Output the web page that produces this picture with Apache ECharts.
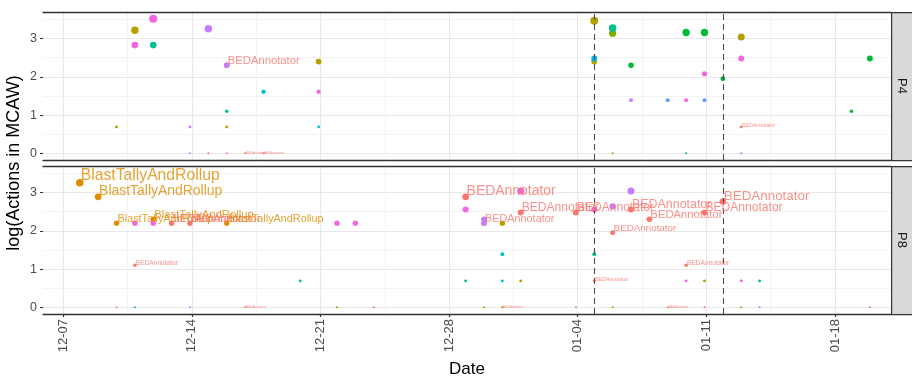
<!DOCTYPE html>
<html>
<head>
<meta charset="utf-8">
<script src="https://cdn.jsdelivr.net/npm/echarts@6/dist/echarts.min.js"></script>
<style>
  html, body { margin: 0; padding: 0; background: #fff; }
  #chart { width: 912px; height: 380px; }
</style>
</head>
<body>
<div id="chart"></div>
<script>
// tools (colour groups); only the two labelled ones are named in the plot
const tools = ['BEDAnnotator', 'BlastTallyAndRollup', 'tool03', 'tool04', 'tool05', 'tool06',
  'tool07', 'tool08', 'tool09', 'tool10', 'tool11', 'tool12'];
const labelledTools = ['BEDAnnotator', 'BlastTallyAndRollup'];
const panels = ['P4', 'P8'];

const tickDates = ['2019-12-07', '2019-12-14', '2019-12-21', '2019-12-28', '2020-01-04', '2020-01-11', '2020-01-18'];
const tickLabels = ['12-07', '12-14', '12-21', '12-28', '01-04', '01-11', '01-18'];
const markerDates = ['2020-01-05', '2020-01-12'];
const yTicks = [0, 1, 2, 3];
const yMinor = [0.5, 1.5, 2.5, 3.5];

// panel P4
const p4Dates = ['2019-12-10', '2019-12-11', '2019-12-11', '2019-12-12', '2019-12-12', '2019-12-14', '2019-12-14',
  '2019-12-15', '2019-12-15', '2019-12-16', '2019-12-16', '2019-12-16', '2019-12-16', '2019-12-16', '2019-12-17',
  '2019-12-18', '2019-12-18', '2019-12-21', '2019-12-21', '2019-12-21', '2020-01-05', '2020-01-05', '2020-01-05',
  '2020-01-06', '2020-01-06', '2020-01-06', '2020-01-07', '2020-01-07', '2020-01-09', '2020-01-10', '2020-01-10',
  '2020-01-10', '2020-01-11', '2020-01-11', '2020-01-11', '2020-01-12', '2020-01-13', '2020-01-13', '2020-01-13',
  '2020-01-13', '2020-01-19', '2020-01-20'];
const p4Values = [0.69, 3.22, 2.83, 3.52, 2.83, 0.69, 0,
  3.26, 0, 2.30, 2.30, 1.10, 0.69, 0, 0,
  0, 1.61, 2.40, 1.61, 0.69, 3.47, 2.40, 2.48,
  3.28, 3.14, 0, 2.30, 1.39, 1.39, 3.16, 1.39,
  0, 3.16, 2.08, 1.39, 1.95, 3.04, 2.48, 0.69,
  0, 1.10, 2.48];
const p4Tools = [3, 2, 10, 10, 5, 9, 9,
  9, 10, 0, 9, 5, 2, 10, 0,
  0, 6, 2, 10, 6, 2, 2, 7,
  5, 3, 2, 4, 9, 8, 4, 10,
  5, 4, 10, 8, 4, 2, 10, 0,
  8, 4, 4];

// panel P8
const p8Dates = ['2019-12-08', '2019-12-09', '2019-12-10', '2019-12-10', '2019-12-11', '2019-12-11', '2019-12-11',
  '2019-12-12', '2019-12-12', '2019-12-13', '2019-12-14', '2019-12-14', '2019-12-16', '2019-12-17', '2019-12-20',
  '2019-12-22', '2019-12-22', '2019-12-23', '2019-12-24', '2019-12-29', '2019-12-29', '2019-12-29', '2019-12-30',
  '2019-12-30', '2019-12-30', '2019-12-30', '2019-12-31', '2019-12-31', '2019-12-31', '2019-12-31', '2019-12-31',
  '2020-01-01', '2020-01-01', '2020-01-01', '2020-01-04', '2020-01-04', '2020-01-05', '2020-01-05', '2020-01-05',
  '2020-01-06', '2020-01-06', '2020-01-06', '2020-01-07', '2020-01-07', '2020-01-08', '2020-01-09', '2020-01-10',
  '2020-01-10', '2020-01-11', '2020-01-11', '2020-01-11', '2020-01-12', '2020-01-13', '2020-01-13', '2020-01-14',
  '2020-01-14', '2020-01-20'];
const p8Values = [3.26, 2.89, 2.20, 0, 2.20, 1.10, 0,
  2.20, 2.30, 2.20, 2.20, 0, 2.20, 0, 0.69,
  2.20, 0, 2.20, 0, 2.89, 2.56, 0.69, 2.20,
  2.30, 2.20, 0, 2.20, 1.39, 0.69, 0, 0,
  3.04, 2.48, 0.69, 2.48, 0, 2.56, 1.39, 0.69,
  2.64, 1.95, 0, 3.04, 2.56, 2.30, 0, 1.10,
  0.69, 2.48, 0.69, 0, 2.77, 0.69, 0, 0.69,
  0, 0];
const p8Tools = [1, 1, 1, 10, 10, 0, 7,
  10, 1, 0, 0, 9, 1, 0, 5,
  10, 3, 10, 11, 0, 10, 5, 0,
  9, 9, 2, 2, 6, 6, 2, 0,
  10, 0, 2, 0, 9, 10, 5, 0,
  9, 0, 2, 9, 0, 0, 0, 0,
  10, 0, 2, 11, 0, 10, 2, 5,
  9, 10];

// ---- styling ----
const palette = ['#F8766D', '#DE8C00', '#B79F00', '#7CAE00', '#00BA38', '#00C08B',
  '#00BFC4', '#00B4F0', '#619CFF', '#C77CFF', '#F564E3', '#FF64B0'];
const FONT = 'Liberation Sans, Arial, sans-serif';
const DAY = 86400000;
const tickShift = 0.1 * DAY;
const xMin = ts('2019-12-06');
const xMax = ts('2020-01-21') + 0.15 * DAY;
const yMin = -0.176, yMax = 3.696;

function ts(s) {
  const [y, m, d] = s.split('-').map(Number);
  return Date.UTC(y, m - 1, d);
}
const pointSize = v => 2 + 1.2 * v + 0.15 * v * v;
const textSize = v => 3.1 + 2.8 * v + 0.33 * v * v;

const majorX = tickDates.map(d => ts(d) + tickShift);
const minorX = tickDates.map(d => ts(d) + tickShift + 3.5 * DAY).filter(v => v < xMax);
const labelByTick = {};
majorX.forEach((v, i) => { labelByTick[v] = tickLabels[i]; });

const grids = [
  { left: 43, right: 21, top: 12, height: 148 },
  { left: 43, right: 21, top: 166, height: 148 }
];

const majorGrid = { color: '#E8E8E8', width: 1 };
const minorGrid = { color: '#F3F3F3', width: 1 };

const xAxis = [];
const yAxis = [];
grids.forEach((g, gi) => {
  const bottom = gi === grids.length - 1;
  xAxis.push({
    type: 'value', gridIndex: gi, position: 'bottom', min: xMin, max: xMax,
    axisLine: { show: true, onZero: false, lineStyle: { color: '#333', width: 1.3 } },
    axisTick: { show: bottom, customValues: majorX, length: 3, lineStyle: { color: '#333', width: 1.2 } },
    axisLabel: {
      show: bottom, customValues: majorX, rotate: 90, margin: 5,
      color: '#4D4D4D', fontSize: 13, fontFamily: FONT,
      formatter: v => labelByTick[v] || ''
    },
    splitLine: { show: true, lineStyle: majorGrid }
  });
  xAxis.push({
    type: 'value', gridIndex: gi, position: 'top', min: xMin, max: xMax,
    axisLine: { show: true, onZero: false, lineStyle: { color: '#333', width: 1.3 } },
    axisTick: { show: false, customValues: minorX },
    axisLabel: { show: false, customValues: minorX },
    splitLine: { show: true, lineStyle: minorGrid }
  });
  yAxis.push({
    type: 'value', gridIndex: gi, position: 'left', min: yMin, max: yMax,
    axisLine: { show: false, onZero: false },
    axisTick: { show: true, customValues: yTicks, length: 3, lineStyle: { color: '#333', width: 1.1 } },
    axisLabel: { customValues: yTicks, margin: 6, color: '#4D4D4D', fontSize: 12.5, fontFamily: FONT },
    splitLine: { show: true, lineStyle: majorGrid }
  });
  yAxis.push({
    type: 'value', gridIndex: gi, position: 'right', min: yMin, max: yMax,
    axisLine: { show: false, onZero: false },
    axisTick: { show: false, customValues: yMinor },
    axisLabel: { show: false, customValues: yMinor },
    splitLine: { show: true, lineStyle: minorGrid }
  });
});

function panelSeries(pi, dates, values, toolIdx) {
  const out = [];
  tools.forEach((name, t) => {
    const data = [];
    dates.forEach((d, i) => { if (toolIdx[i] === t) data.push([ts(d), values[i]]); });
    if (!data.length) return;
    out.push({
      type: 'scatter', name: name, xAxisIndex: pi * 2, yAxisIndex: pi * 2,
      data: data, symbolSize: v => pointSize(v[1]),
      itemStyle: { color: palette[t], opacity: 1 },
      silent: true, z: 2
    });
  });
  const labels = [];
  dates.forEach((d, i) => {
    const name = tools[toolIdx[i]];
    if (labelledTools.indexOf(name) < 0) return;
    labels.push({
      value: [ts(d), values[i]],
      label: { formatter: name, fontSize: textSize(values[i]), color: palette[toolIdx[i]] }
    });
  });
  out.push({
    type: 'scatter', xAxisIndex: pi * 2, yAxisIndex: pi * 2,
    data: labels, symbolSize: 0, silent: true, z: 5,
    label: { show: true, position: 'inside', align: 'left', verticalAlign: 'bottom', offset: [1, 1], fontFamily: FONT },
    markLine: {
      silent: true, symbol: ['none', 'none'], label: { show: false },
      lineStyle: { type: [6, 4], color: '#4D4D4D', width: 1.1 },
      data: markerDates.map(d => ({ xAxis: ts(d) }))
    }
  });
  return out;
}

const series = [].concat(
  panelSeries(0, p4Dates, p4Values, p4Tools),
  panelSeries(1, p8Dates, p8Values, p8Tools)
);

const graphic = [];
grids.forEach((g, gi) => {
  graphic.push({
    type: 'rect', left: 891, top: g.top, z: 10,
    shape: { width: 30, height: g.height },
    style: { fill: '#D9D9D9', stroke: '#333', lineWidth: 1.2 }
  });
  graphic.push({
    type: 'text', x: 902, y: g.top + g.height / 2, rotation: -Math.PI / 2, z: 11,
    style: { text: panels[gi], fill: '#1A1A1A', font: '13px ' + FONT, align: 'center', verticalAlign: 'middle' }
  });
});
graphic.push({
  type: 'text', x: 14, y: 163, rotation: Math.PI / 2,
  style: { text: 'log(Actions in MCAW)', fill: '#000', font: '18px ' + FONT, align: 'center', verticalAlign: 'middle' }
});
graphic.push({
  type: 'text', x: 467, y: 369,
  style: { text: 'Date', fill: '#000', font: '17px ' + FONT, align: 'center', verticalAlign: 'middle' }
});

const chart = echarts.init(document.getElementById('chart'));
chart.setOption({
  animation: false,
  backgroundColor: '#fff',
  grid: grids,
  xAxis: xAxis,
  yAxis: yAxis,
  series: series,
  graphic: graphic
});
</script>
</body>
</html>
